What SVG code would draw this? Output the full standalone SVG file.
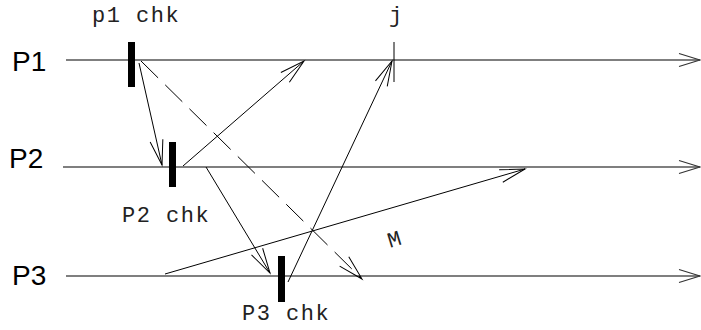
<svg xmlns="http://www.w3.org/2000/svg" width="701" height="330" viewBox="0 0 701 330">
<defs>
<marker id="ah" markerUnits="userSpaceOnUse" markerWidth="30" markerHeight="16" viewBox="-27 -8 30 16" refX="0" refY="0" orient="auto">
<path d="M-25,-6.5 L0,0 L-25,6.5" fill="none" stroke="#000" stroke-width="1"/>
</marker>
<marker id="th" markerUnits="userSpaceOnUse" markerWidth="30" markerHeight="16" viewBox="-24 -8 26 16" refX="0" refY="0" orient="auto">
<path d="M-21,-6.5 L0,0 L-21,6.5" fill="none" stroke="#333" stroke-width="1.2"/>
</marker>
</defs>
<style>
.tl{stroke:#555;stroke-width:1.6;fill:none}
.msg{stroke:#000;stroke-width:1;fill:none}
.bar{fill:#000}
.pl{font-family:"Liberation Sans",Arial,sans-serif;font-size:28px;fill:#000}
.mono{font-family:"Liberation Mono","Courier New",monospace;font-size:22px;letter-spacing:1.5px;fill:#222}
</style>
<rect width="701" height="330" fill="#fff"/>
<g id="P1">
<text class="pl" x="12" y="71">P1</text>
<line class="tl" x1="66" y1="60" x2="700" y2="60" marker-end="url(#th)"/>
</g>
<g id="P2">
<text class="pl" x="9" y="168">P2</text>
<line class="tl" x1="63" y1="167" x2="700" y2="167" marker-end="url(#th)"/>
</g>
<g id="P3">
<text class="pl" x="12" y="285">P3</text>
<line class="tl" x1="66" y1="276" x2="700" y2="276" marker-end="url(#th)"/>
</g>
<g id="p1chk">
<rect class="bar" x="128" y="42" width="7" height="45"/>
<text class="mono" x="92" y="22">p1 chk</text>
</g>
<g id="P2chk">
<rect class="bar" x="169" y="142" width="7" height="45"/>
<text class="mono" x="122" y="222">P2 chk</text>
</g>
<g id="P3chk">
<rect class="bar" x="278" y="256" width="7" height="46"/>
<text class="mono" x="242" y="320">P3 chk</text>
</g>
<g id="j">
<line x1="394" y1="42" x2="394" y2="82" stroke="#000" stroke-width="1"/>
<text class="mono" x="389" y="22">j</text>
</g>
<g id="connectors">
<line class="msg" x1="139" y1="63" x2="162" y2="165" marker-end="url(#ah)"/>
<line class="msg" x1="141" y1="61" x2="362" y2="279" stroke-dasharray="24,10" marker-end="url(#ah)"/>
<line class="msg" x1="183" y1="166" x2="304" y2="61" marker-end="url(#ah)"/>
<line class="msg" x1="206" y1="167" x2="270" y2="273" marker-end="url(#ah)"/>
<line class="msg" x1="165" y1="274" x2="525" y2="169" marker-end="url(#ah)"/>
<line class="msg" x1="288" y1="282" x2="392" y2="61" marker-end="url(#ah)"/>
<text class="mono" x="0" y="0" transform="translate(390,248) rotate(-17)">M</text>
</g>
</svg>
